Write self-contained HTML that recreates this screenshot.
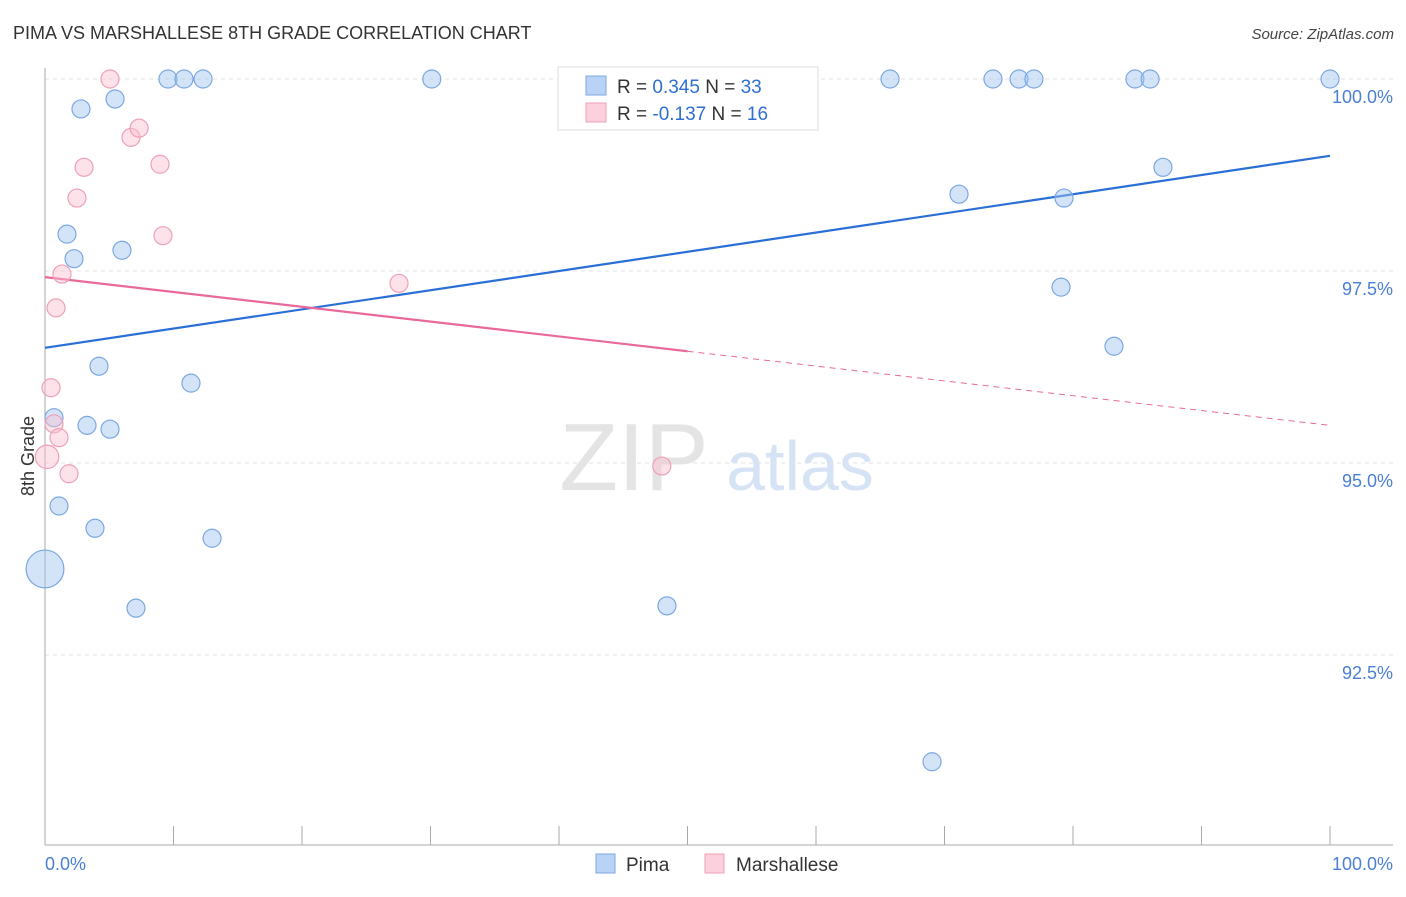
<!DOCTYPE html>
<html><head><meta charset="utf-8"><style>
body{margin:0;background:#fff;font-family:"Liberation Sans",sans-serif;}
svg text{font-family:"Liberation Sans",sans-serif;}
</style></head><body>
<svg id="c" width="1406" height="892" xmlns="http://www.w3.org/2000/svg">
<text x="13" y="39" font-size="18" fill="#333">PIMA VS MARSHALLESE 8TH GRADE CORRELATION CHART</text>
<text x="1394" y="39" font-size="15" fill="#444" text-anchor="end" font-style="italic">Source: ZipAtlas.com</text>
<g>
<text x="634" y="490" font-size="96" fill="#e4e4e4" text-anchor="middle" font-family="Liberation Serif">ZIP</text>
<text x="800" y="490" font-size="70" fill="#d6e3f5" text-anchor="middle">atlas</text>
</g>
<g id="grid"></g><g id="axes"></g><g id="lines"></g><g id="pts"></g>
<text transform="translate(34,456) rotate(-90)" font-size="18" fill="#333" text-anchor="middle">8th Grade</text>
<g>
<rect x="558" y="67" width="260" height="63" fill="#fff" stroke="#ddd"/>
<rect x="586" y="76" width="20" height="19" fill="#b8d3f5" stroke="#7ba7e0"/>
<rect x="586" y="103" width="20" height="19" fill="#fcd0dc" stroke="#eda0b6"/>
<text x="617" y="93" font-size="19" fill="#333">R = <tspan fill="#2f6fd0">0.345</tspan>   N = <tspan fill="#2f6fd0">33</tspan></text>
<text x="617" y="120" font-size="19" fill="#333">R = <tspan fill="#2f6fd0">-0.137</tspan>   N = <tspan fill="#2f6fd0">16</tspan></text>
</g>
<g>
<rect x="596" y="854" width="19" height="19" fill="#b8d3f5" stroke="#7ba7e0"/>
<text x="626" y="871" font-size="19" fill="#333">Pima</text>
<rect x="705" y="854" width="19" height="19" fill="#fcd0dc" stroke="#eda0b6"/>
<text x="736" y="871" font-size="19" fill="#333">Marshallese</text>
</g>
</svg>
<script>
const yTicks=[100,97.5,95,92.5];
const yTickLabels=["100.0%","97.5%","95.0%","92.5%"];
const xTickLabels=["0.0%","100.0%"];
const pimaX=[2.8,5.45,9.57,10.82,12.3,30.1,65.76,73.77,75.8,76.96,84.82,86.0,100,1.71,2.26,5.99,71.13,79.3,87.0,79.07,83.19,4.2,11.36,0.7,3.27,5.06,1.09,3.89,13.0,0,7.08,48.4,69.03];
const pimaY=[99.61,99.74,100,100,100,100,100,100,100,100,100,100,100,97.98,97.66,97.77,98.5,98.45,98.85,97.29,96.52,96.26,96.04,95.59,95.49,95.44,94.44,94.15,94.02,93.62,93.11,93.14,91.11];
const pimaSize=[1,1,1,1,1,1,1,1,1,1,1,1,1,1,1,1,1,1,1,1,1,1,1,1,1,1,1,1,1,2.1,1,1,1];
const marX=[5.06,6.69,7.32,3.04,8.95,2.49,9.18,1.32,0.86,27.55,0.47,0.7,1.09,0.16,1.87,48.0];
const marY=[100,99.24,99.36,98.85,98.89,98.45,97.96,97.46,97.02,97.34,95.98,95.51,95.33,95.08,94.86,94.96];
const marSize=[1,1,1,1,1,1,1,1,1,1,1,1,1,1.3,1,1];
const pimaTrend=[96.5,99.0];
const marTrend=[97.42,95.49];
const marSolidEnd=50;
const X=v=>45+v*12.85, Y=v=>79+(100-v)*76.8;
const NS="http://www.w3.org/2000/svg";
function mk(p,t,a){const e=document.createElementNS(NS,t);for(const k in a)e.setAttribute(k,a[k]);document.getElementById(p).appendChild(e);return e;}
yTicks.forEach((t,i)=>{
 const g=mk('grid','line',{x1:45,x2:1393,y1:Y(t),y2:Y(t),stroke:'#e2e2e2','stroke-dasharray':'4,4'});
 
 
 const l=mk('grid','text',{x:1393,y:Y(t)+24,'font-size':18,fill:'#4a7fd4','text-anchor':'end'});
 
 
 l.textContent=yTickLabels[i];
});
let a=mk('axes','line',{x1:45,x2:45,y1:68,y2:845,stroke:'#aaa'});


a=mk('axes','line',{x1:45,x2:1393,y1:845,y2:845,stroke:'#aaa'});


for(let i=1;i<=10;i++){const t=mk('axes','line',{x1:X(i*10),x2:X(i*10),y1:826,y2:845,stroke:'#aaa'});
 
 }
let xl=mk('axes','text',{x:45,y:870,'font-size':18,fill:'#4a7fd4'});


xl.textContent=xTickLabels[0];
xl=mk('axes','text',{x:1393,y:870,'font-size':18,fill:'#4a7fd4','text-anchor':'end'});


xl.textContent=xTickLabels[1];
pimaX.forEach((x,i)=>{const c=mk('pts','circle',{cx:X(x),cy:Y(pimaY[i]),r:9*pimaSize[i],fill:'rgba(160,196,240,0.45)',stroke:'#7ba7e0','stroke-width':1.2});
 
 });
marX.forEach((x,i)=>{const c=mk('pts','circle',{cx:X(x),cy:Y(marY[i]),r:9*marSize[i],fill:'rgba(250,190,208,0.45)',stroke:'#eda0b6','stroke-width':1.2});
 
 });
let ln=mk('lines','line',{x1:X(0),y1:Y(pimaTrend[0]),x2:X(100),y2:Y(pimaTrend[1]),stroke:'#2a6fd6','stroke-width':2.2});


const mAt=v=>marTrend[0]+(marTrend[1]-marTrend[0])*v/100;
ln=mk('lines','line',{x1:X(0),y1:Y(marTrend[0]),x2:X(marSolidEnd),y2:Y(mAt(marSolidEnd)),stroke:'#e8699a','stroke-width':2.2});


ln=mk('lines','line',{x1:X(marSolidEnd),y1:Y(mAt(marSolidEnd)),x2:X(100),y2:Y(marTrend[1]),stroke:'#e8699a','stroke-width':1,'stroke-dasharray':'6,5'});


</script>
</body></html>
